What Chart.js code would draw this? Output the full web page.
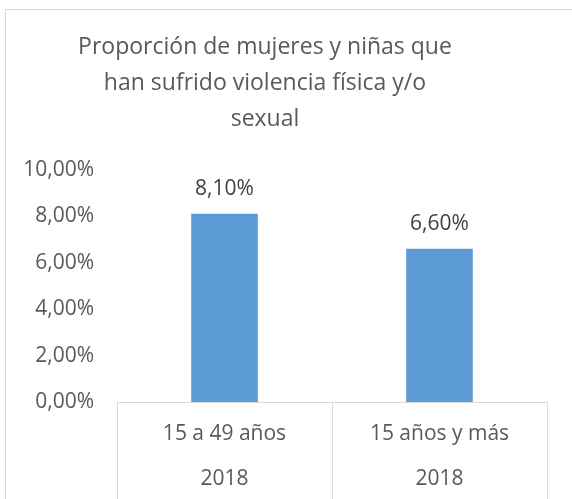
<!DOCTYPE html>
<html>
<head>
<meta charset="utf-8">
<script src="https://cdn.jsdelivr.net/npm/chart.js@4/dist/chart.umd.min.js"></script>
<style>
  html, body { margin: 0; padding: 0; background: #fff; overflow: hidden; }
  #frame { position: absolute; left: 5px; top: 9px; width: 700px; height: 700px; border: 1px solid #d9d9d9; }
  #wrap { position: absolute; left: 0; top: 0; width: 572px; height: 499px; overflow: hidden; }
</style>
</head>
<body>
<div id="frame"></div>
<div id="wrap"><canvas id="chart" width="572" height="511"></canvas></div>
<script>
// data
const ageGroups = ['15 a 49 años', '15 años y más'];
const years = ['2018', '2018'];
const violencePct = [8.1, 6.6];
const yTicks = [0, 2, 4, 6, 8, 10];

const textColor = '#595959';
const fontFamily = "'Open Sans', 'Noto Sans', sans-serif";
const gridColor = '#d9d9d9';

const fmtPct = v => v.toFixed(2).replace('.', ',') + '%';

// value labels above the bars
const barLabels = {
    id: 'barLabels',
    afterDatasetsDraw(chart) {
        const ctx = chart.ctx;
        const meta = chart.getDatasetMeta(0);
        ctx.save();
        ctx.font = `21px ${fontFamily}`;
        ctx.fillStyle = '#404040';
        ctx.textAlign = 'center';
        ctx.textBaseline = 'middle';
        meta.data.forEach((bar, i) => {
            ctx.fillText(fmtPct(violencePct[i]), bar.x, bar.y - 25);
        });
        ctx.restore();
    },
};

// category separators running down through the two label rows
const categoryDividers = {
    id: 'categoryDividers',
    afterDraw(chart) {
        const x = chart.scales.x;
        const n = x.ticks.length;
        const ctx = chart.ctx;
        ctx.save();
        ctx.strokeStyle = gridColor;
        ctx.lineWidth = 1;
        ctx.beginPath();
        for (let i = 0; i <= n; i++) {
            const px = Math.round(x.left + i * x.width / n) + 0.5;
            ctx.moveTo(px, chart.chartArea.bottom);
            ctx.lineTo(px, chart.height);
        }
        ctx.stroke();
        ctx.restore();
    },
};

new Chart(document.getElementById('chart'), {
    type: 'bar',
    data: {
        labels: ageGroups.map((g, i) => [g, years[i]]),
        datasets: [{
            data: violencePct,
            backgroundColor: '#5b9bd5',
            categoryPercentage: 1,
            barPercentage: 0.31,
        }],
    },
    options: {
        responsive: false,
        animation: false,
        layout: { padding: { left: -17, right: 25, top: 0, bottom: 0 } },
        plugins: {
            legend: { display: false },
            tooltip: { enabled: false },
            title: {
                display: true,
                text: ['Proporción de mujeres y niñas que', 'han sufrido violencia física y/o', 'sexual'],
                color: textColor,
                font: { family: fontFamily, size: 23, weight: 'normal', lineHeight: 1.56 },
                padding: { top: 30, bottom: 32 },
            },
        },
        scales: {
            x: {
                border: { display: true, color: gridColor },
                grid: { display: false, drawTicks: false },
                ticks: {
                    color: textColor,
                    padding: 9.5,
                    maxRotation: 0,
                    autoSkip: false,
                    font: { family: fontFamily, size: 21, lineHeight: 45 / 21 },
                },
            },
            y: {
                min: 0,
                max: 10,
                afterBuildTicks: axis => { axis.ticks = yTicks.map(v => ({ value: v })); },
                afterFit: axis => { axis.width = 134; },
                border: { display: false },
                grid: { display: false, drawTicks: false },
                ticks: {
                    color: textColor,
                    padding: 23,
                    font: { family: fontFamily, size: 21 },
                    callback: v => fmtPct(v),
                },
            },
        },
    },
    plugins: [barLabels, categoryDividers],
});
</script>
</body>
</html>
